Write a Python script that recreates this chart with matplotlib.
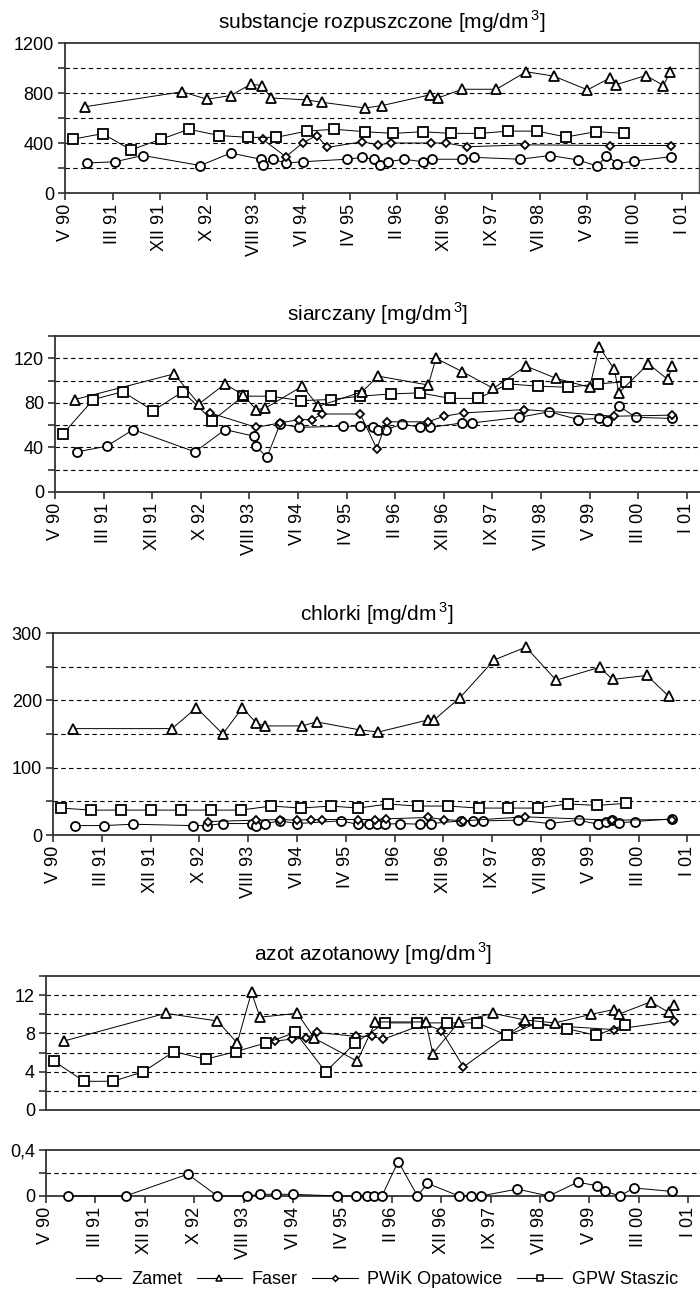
#!/usr/bin/env python3
"""
Water quality time series (four indicators, four monitoring points).
"""

import matplotlib
matplotlib.use("Agg")
import matplotlib.pyplot as plt
from matplotlib.lines import Line2D

plt.rcParams['font.family'] = ['Liberation Sans', 'DejaVu Sans']
plt.rcParams['mathtext.fontset'] = 'custom'
plt.rcParams['mathtext.rm'] = 'Liberation Sans'

# x-axis categories (positions below are in units of these evenly spaced ticks)
tick_labels = ['V 90', 'III 91', 'XII 91', 'X 92', 'VIII 93', 'VI 94', 'IV 95',
               'II 96', 'XII 96', 'IX 97', 'VII 98', 'V 99', 'III 00', 'I 01']

# --- substancje rozpuszczone [mg/dm3] ---
zamet_sub_x = [0.46, 1.05, 1.64, 2.85, 3.49, 4.12, 4.16, 4.37, 4.65, 5.0, 5.93, 6.26, 6.51, 6.63,
               6.81, 7.14, 7.53, 7.73, 8.36, 8.62, 9.58, 10.21, 10.79, 11.21, 11.4, 11.63, 11.98, 12.75]
zamet_sub_y = [240, 250, 300, 220, 320, 270, 225, 270, 240, 250, 270, 285, 270, 225,
               250, 270, 250, 270, 270, 285, 270, 300, 265, 215, 300, 235, 255, 290]
faser_sub_x = [0.42, 2.47, 2.99, 3.49, 3.91, 4.15, 4.34, 5.09, 5.42, 6.32, 6.68, 7.68, 7.85, 8.36,
               9.08, 9.71, 10.29, 11.0, 11.47, 11.59, 12.23, 12.6, 12.74]
faser_sub_y = [690, 810, 750, 780, 870, 860, 760, 745, 725, 680, 700, 785, 760, 830,
               830, 970, 935, 825, 920, 865, 940, 860, 970]
pwik_sub_x = [4.16, 4.65, 5.0, 5.3, 5.52, 6.26, 6.6, 6.86, 7.7, 8.02, 8.46, 9.68, 11.47, 12.75]
pwik_sub_y = [430, 290, 400, 460, 365, 410, 385, 400, 400, 400, 370, 385, 380, 380]
gpw_sub_x = [0.16, 0.79, 1.39, 2.02, 2.61, 3.24, 3.86, 4.44, 5.09, 5.67, 6.32, 6.91, 7.53, 8.12,
             8.74, 9.33, 9.94, 10.55, 11.18, 11.77]
gpw_sub_y = [430, 475, 345, 430, 510, 460, 445, 445, 495, 510, 490, 477, 490, 477,
             477, 495, 495, 448, 491, 477]

# --- siarczany [mg/dm3] ---
zamet_so4_x = [0.45, 1.06, 1.61, 2.88, 3.5, 4.1, 4.14, 4.36, 4.63, 5.02, 5.92, 6.28, 6.55, 6.65,
               6.81, 7.15, 7.51, 7.72, 8.38, 8.59, 9.55, 10.17, 10.77, 11.19, 11.35, 11.61, 11.95, 12.7]
zamet_so4_y = [36, 41, 56, 36, 56, 50, 41, 31, 61, 58, 59, 59, 58, 56,
               56, 61, 58, 58, 62, 62, 67, 72, 65, 66, 64, 77, 67, 66]
faser_so4_x = [0.41, 2.45, 2.96, 3.5, 3.87, 4.14, 4.32, 5.09, 5.42, 6.32, 6.65, 7.68, 7.84, 8.38,
               9.02, 9.69, 10.31, 11.0, 11.2, 11.51, 11.6, 12.21, 12.61, 12.7]
faser_so4_y = [83, 106, 79, 97, 87, 74, 75, 95, 77, 90, 104, 96, 120, 108,
               93, 113, 102, 94, 130, 110, 89, 115, 101, 113]
pwik_so4_x = [3.19, 4.14, 4.63, 5.02, 5.29, 5.5, 6.28, 6.62, 6.83, 7.68, 8.0, 8.42, 9.66, 11.5, 12.7]
pwik_so4_y = [71, 58, 62, 65, 65, 70, 70, 39, 63, 63, 68, 71, 74, 68, 69]
gpw_so4_x = [0.16, 0.79, 1.39, 2.02, 2.63, 3.24, 3.87, 4.44, 5.06, 5.67, 6.28, 6.91, 7.51, 8.13,
             8.71, 9.33, 9.93, 10.56, 11.17, 11.75]
gpw_so4_y = [52, 83, 90, 73, 90, 64, 86, 86, 82, 83, 86, 88, 89, 84,
             84, 97, 95, 94, 97, 99]

# --- chlorki [mg/dm3] ---
zamet_cl_x = [0.45, 1.05, 1.63, 2.86, 3.15, 3.48, 4.08, 4.17, 4.34, 4.65, 5.0, 5.9, 6.24, 6.48,
              6.63, 6.8, 7.11, 7.52, 7.74, 8.37, 8.6, 8.81, 9.52, 10.18, 10.77, 11.17, 11.33, 11.45,
              11.6, 11.93, 12.68]
zamet_cl_y = [14, 14, 16, 14, 14, 17, 17, 14, 17, 21, 17, 21, 16, 16,
              16, 16, 17, 16, 17, 21, 21, 21, 22, 17, 22, 16, 19, 22,
              18, 20, 24]
faser_cl_x = [0.42, 2.44, 2.94, 3.48, 3.88, 4.17, 4.34, 5.11, 5.4, 6.29, 6.67, 7.69, 7.81, 8.34,
              9.04, 9.69, 10.31, 11.2, 11.47, 12.17, 12.62]
faser_cl_y = [158, 158, 189, 150, 189, 166, 162, 162, 168, 156, 153, 171, 171, 204,
              260, 279, 230, 249, 231, 237, 206]
pwik_cl_x = [3.18, 4.17, 4.65, 5.0, 5.28, 5.52, 6.24, 6.6, 6.82, 7.69, 8.01, 8.41, 9.67, 11.45, 12.68]
pwik_cl_y = [20, 22, 23, 22, 23, 23, 23, 23, 24, 26, 23, 21, 27, 22, 23]
gpw_cl_x = [0.16, 0.78, 1.39, 2.0, 2.62, 3.23, 3.85, 4.47, 5.08, 5.69, 6.26, 6.86, 7.47, 8.1,
            8.72, 9.33, 9.93, 10.55, 11.15, 11.74]
gpw_cl_y = [40, 37, 37, 37, 37, 37, 37, 43, 40, 43, 40, 46, 43, 43,
            40, 40, 40, 46, 44, 47]

# --- azot azotanowy [mg/dm3] ---
zamet_no3_x = [0.45, 1.61, 2.87, 3.47, 4.07, 4.33, 4.65, 4.99, 5.9, 6.27, 6.5, 6.64, 6.8, 7.13,
               7.52, 7.72, 8.36, 8.6, 8.8, 9.54, 10.18, 10.76, 11.15, 11.32, 11.62, 11.9, 12.67]
zamet_no3_y = [0, 0, 0.19, 0, 0, 0.015, 0.015, 0.015, 0, 0, 0, 0, 0, 0.3,
               0, 0.11, 0, 0, 0, 0.06, 0, 0.12, 0.09, 0.04, 0, 0.07, 0.04]
faser_no3_x = [0.36, 2.42, 3.47, 3.87, 4.16, 4.33, 5.09, 5.43, 6.3, 6.67, 7.69, 7.83, 8.36,
               9.05, 9.7, 10.3, 11.04, 11.5, 11.59, 12.24, 12.61, 12.71]
faser_no3_y = [7.2, 10.1, 9.3, 7.0, 12.3, 9.7, 10.1, 7.5, 5.1, 9.2, 9.2, 5.9, 9.2,
               10.1, 9.4, 9.1, 10.0, 10.5, 10.0, 11.3, 10.2, 11.0]
pwik_no3_x = [4.64, 4.97, 5.26, 5.49, 6.27, 6.59, 6.83, 7.67, 8.0, 8.45, 9.66, 11.5, 12.71]
pwik_no3_y = [7.2, 7.4, 7.5, 8.1, 7.7, 7.7, 7.4, 9.0, 8.3, 4.5, 9.0, 8.4, 9.3]
gpw_no3_x = [0.16, 0.77, 1.36, 1.97, 2.59, 3.23, 3.84, 4.45, 5.05, 5.66, 6.26, 6.86, 7.5, 8.12,
             8.73, 9.34, 9.95, 10.55, 11.13, 11.72]
gpw_no3_y = [5.1, 3.0, 3.0, 4.0, 6.1, 5.3, 6.1, 7.0, 8.1, 4.0, 7.0, 9.1, 9.1, 9.1,
             9.1, 7.8, 9.1, 8.5, 7.8, 8.9]

W, H = 700, 1300
TICK_FS = 13
TITLE_FS = 15

styles = {
    'Zamet': dict(marker='o', ms=6.5),
    'Faser': dict(marker='^', ms=7),
    'PWiK Opatowice': dict(marker='D', ms=4.5),
    'GPW Staszic': dict(marker='s', ms=6.5),
}

fig = plt.figure(figsize=(W / 100, H / 100), dpi=100)


def add_panel(left, top, right, bottom, tick0, spacing):
    ax = fig.add_axes([left / W, 1 - bottom / H, (right - left) / W, (bottom - top) / H])
    ax.set_xlim(-(left - tick0) / spacing if tick0 > left else 0, (right - tick0) / spacing)
    for side in ['left', 'bottom', 'top']:
        ax.spines[side].set_linewidth(1.3)
        ax.spines[side].set_color('#333333')
    ax.spines['right'].set_visible(False)
    ax.tick_params(direction='out', length=5, width=1.2, color='#333333',
                   labelsize=TICK_FS, pad=3)
    return ax


def draw_series(ax, x, y, name):
    st = styles[name]
    ax.plot(x, y, color='black', lw=0.7, marker=st['marker'], ms=st['ms'],
            mfc='white', mec='black', mew=1.3, zorder=3, clip_on=False)


def setup_y(ax, ymax, step, label_step, grid, fmt=str):
    ax.set_ylim(0, ymax)
    ticks = []
    v = 0
    while v <= ymax + 1e-9:
        ticks.append(round(v, 6))
        v += step
    ax.set_yticks(ticks)
    labels = []
    for t in ticks:
        k = t / label_step
        labels.append(fmt(t) if abs(k - round(k)) < 1e-6 else '')
    ax.set_yticklabels(labels)
    for g in grid:
        ax.axhline(g, color='black', lw=0.8, ls=(0, (4, 3)), zorder=1)


def setup_x(ax, show_labels=True):
    ax.set_xticks(range(len(tick_labels)))
    if show_labels:
        ax.set_xticklabels(tick_labels, rotation=90)
    else:
        ax.set_xticklabels([])
        ax.tick_params(axis='x', length=0)


def title(ax, text, y_px):
    pos = ax.get_position()
    fig.text(pos.x0 + pos.width / 2, 1 - y_px / H, text, ha='center', va='center',
             fontsize=TITLE_FS)


# panel 1
ax1 = add_panel(65, 43, 699, 193, 65, 47.5)
ax1.spines['right'].set_visible(True)
ax1.spines['right'].set_linewidth(1.0)
ax1.spines['right'].set_color('#555555')
setup_y(ax1, 1200, 200, 400, [200, 400, 600, 800, 1000])
setup_x(ax1)
draw_series(ax1, zamet_sub_x, zamet_sub_y, 'Zamet')
draw_series(ax1, pwik_sub_x, pwik_sub_y, 'PWiK Opatowice')
draw_series(ax1, gpw_sub_x, gpw_sub_y, 'GPW Staszic')
draw_series(ax1, faser_sub_x, faser_sub_y, 'Faser')
title(ax1, 'substancje rozpuszczone [mg/dm$^{\\,3}$]', 22)

# panel 2
ax2 = add_panel(55, 336, 700, 492, 55, 48.6)
setup_y(ax2, 140, 20, 40, [20, 40, 60, 80, 100, 120])
setup_x(ax2)
draw_series(ax2, zamet_so4_x, zamet_so4_y, 'Zamet')
draw_series(ax2, pwik_so4_x, pwik_so4_y, 'PWiK Opatowice')
draw_series(ax2, gpw_so4_x, gpw_so4_y, 'GPW Staszic')
draw_series(ax2, faser_so4_x, faser_so4_y, 'Faser')
title(ax2, 'siarczany [mg/dm$^{\\,3}$]', 314)

# panel 3
ax3 = add_panel(53, 633, 700, 835, 53, 48.8)
setup_y(ax3, 300, 50, 100, [50, 100, 150, 200, 250])
setup_x(ax3)
draw_series(ax3, zamet_cl_x, zamet_cl_y, 'Zamet')
draw_series(ax3, pwik_cl_x, pwik_cl_y, 'PWiK Opatowice')
draw_series(ax3, gpw_cl_x, gpw_cl_y, 'GPW Staszic')
draw_series(ax3, faser_cl_x, faser_cl_y, 'Faser')
title(ax3, 'chlorki [mg/dm$^{\\,3}$]', 614)

# panel 4 (upper: three stations, lower: Zamet on its own small scale)
ax4 = add_panel(46, 976, 700, 1110, 46, 49.4)
setup_y(ax4, 14, 2, 4, [2, 4, 6, 8, 10, 12])
setup_x(ax4, show_labels=False)
draw_series(ax4, pwik_no3_x, pwik_no3_y, 'PWiK Opatowice')
draw_series(ax4, gpw_no3_x, gpw_no3_y, 'GPW Staszic')
draw_series(ax4, faser_no3_x, faser_no3_y, 'Faser')
title(ax4, 'azot azotanowy [mg/dm$^{\\,3}$]', 954)

ax5 = add_panel(46, 1150, 700, 1196, 46, 49.4)
setup_y(ax5, 0.4, 0.2, 0.4, [0.2], fmt=lambda v: ('%g' % v).replace('.', ','))
setup_x(ax5)
draw_series(ax5, zamet_no3_x, zamet_no3_y, 'Zamet')

# legend
handles = [Line2D([], [], color='black', lw=0.8, marker=st['marker'], ms=st['ms'] * 0.65,
                  mfc='white', mec='black', mew=1.1, label=name)
           for name, st in styles.items()]
fig.legend(handles=handles, loc='center', bbox_to_anchor=(0.539, 1 - 1280 / H), ncol=4,
           frameon=False, fontsize=TICK_FS, handlelength=2.5, handletextpad=0.55,
           columnspacing=0.8, borderpad=0)

fig.savefig('out.png', dpi=100)
